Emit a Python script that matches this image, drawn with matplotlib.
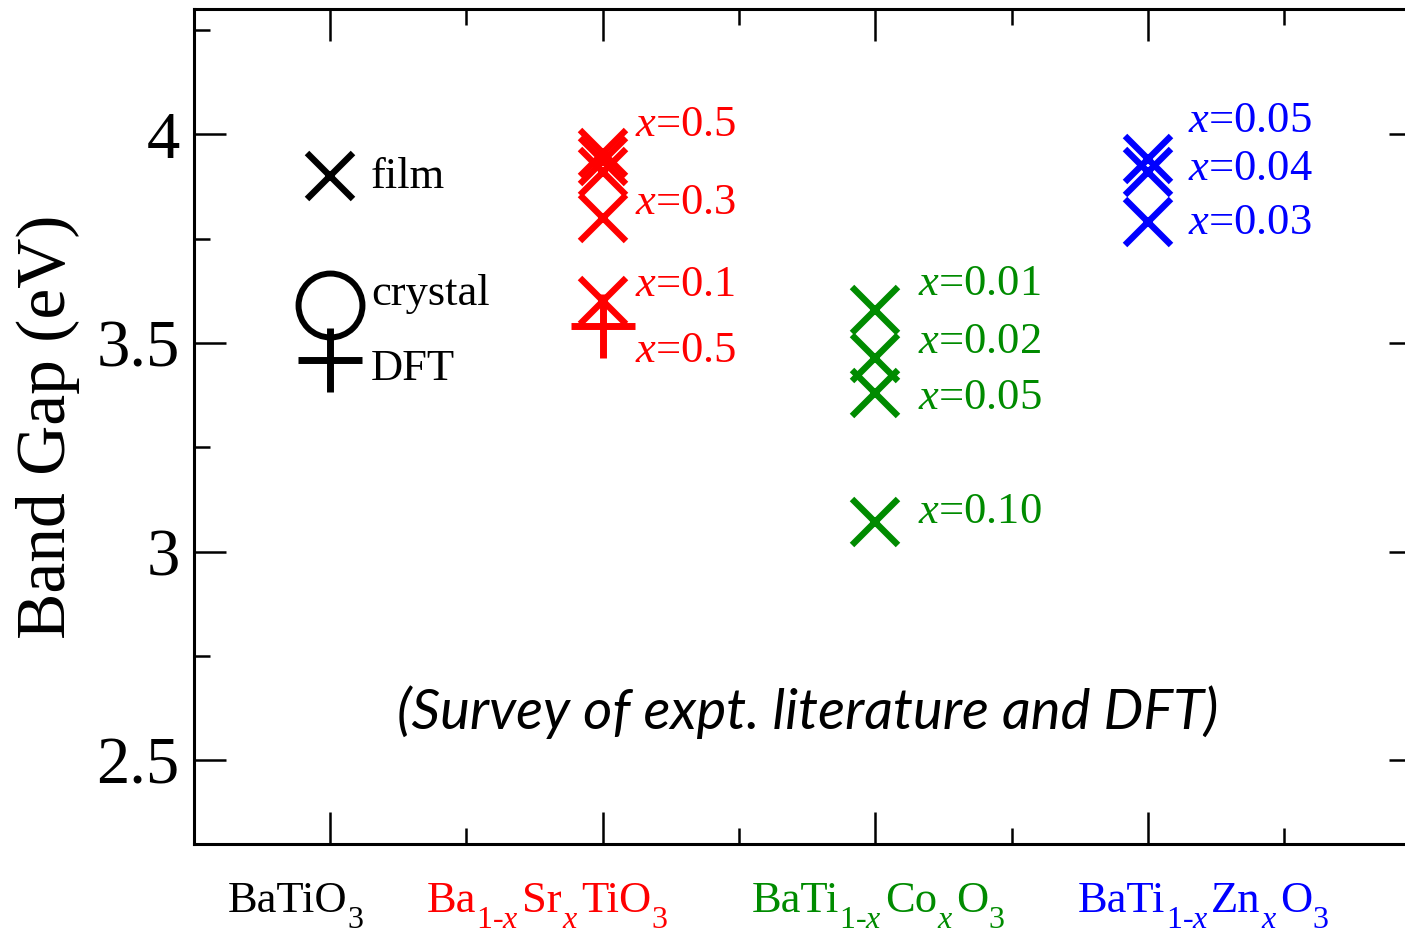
import numpy as np
import matplotlib
matplotlib.use('Agg')
import matplotlib.pyplot as plt
from matplotlib.transforms import IdentityTransform

plt.rcParams['font.family'] = ['Liberation Serif', 'DejaVu Serif']
plt.rcParams['mathtext.fontset'] = 'custom'
plt.rcParams['mathtext.rm'] = 'Liberation Serif'
plt.rcParams['mathtext.it'] = 'Liberation Serif:italic'

# categories along x, names split in (text, is_subscript) pieces
cat_x = [1, 3, 5, 7]
cat_parts = [
    [('BaTiO', False), ('3', True)],
    [('Ba', False), ('1-$x$', True), ('Sr', False), ('$x$', True),
     ('TiO', False), ('3', True)],
    [('BaTi', False), ('1-$x$', True), ('Co', False), ('$x$', True),
     ('O', False), ('3', True)],
    [('BaTi', False), ('1-$x$', True), ('Zn', False), ('$x$', True),
     ('O', False), ('3', True)],
]
cat_colors = ['black', '#ff0000', '#008b00', '#0000ff']

# BaTiO3 (also used as the key)
film_y = [3.90]
crystal_y = [3.59]
dft_y = [3.46]
key_labels = ['film', 'crystal', 'DFT']
key_label_y = [3.871, 3.590, 3.411]

# Ba(1-x)Sr(x)TiO3
bst_film_y = [3.955, 3.935, 3.91, 3.80, 3.60]
bst_dft_y = [3.54]
bst_labels = ['0.5', '0.3', '0.1', '0.5']
bst_label_y = [4.022, 3.835, 3.640, 3.480]

# BaTi(1-x)Co(x)O3
bco_film_y = [3.58, 3.465, 3.38, 3.07]
bco_labels = ['0.01', '0.02', '0.05', '0.10']
bco_label_y = [3.641, 3.502, 3.368, 3.096]

# BaTi(1-x)Zn(x)O3
bzo_film_y = [3.94, 3.91, 3.79]
bzo_labels = ['0.05', '0.04', '0.03']
bzo_label_y = [4.032, 3.918, 3.787]

fig = plt.figure(figsize=(14.05, 9.34), dpi=100)
ax = fig.add_axes([0.1379, 0.0965, 0.8733, 0.8938])
ax.set_xlim(0, 9)
ax.set_ylim(2.3, 4.3)

xm = dict(ls='none', marker='x', ms=33, mew=4.6)

# BaTiO3
ax.plot([cat_x[0]] * len(film_y), film_y, color=cat_colors[0], **xm)
ax.plot([cat_x[0]] * len(crystal_y), crystal_y, ls='none', marker='o', ms=46,
        mew=4.3, mfc='none', color=cat_colors[0])
ax.plot([cat_x[0]] * len(dft_y), dft_y, ls='none', marker='+', ms=46,
        mew=5, color=cat_colors[0])
for lab, y in zip(key_labels, key_label_y):
    ax.text(cat_x[0] + 0.30, y, lab, fontsize=32, va='baseline', ha='left')

# BST
ax.plot([cat_x[1]] * len(bst_film_y), bst_film_y, color=cat_colors[1], **xm)
ax.plot([cat_x[1]] * len(bst_dft_y), bst_dft_y, ls='none', marker='+', ms=46,
        mew=5, color=cat_colors[1])
for lab, y in zip(bst_labels, bst_label_y):
    ax.text(cat_x[1] + 0.24, y, r'$x$=' + lab, fontsize=32, va='center',
            ha='left', color=cat_colors[1])

# BTCo
ax.plot([cat_x[2]] * len(bco_film_y), bco_film_y, color=cat_colors[2], **xm)
for lab, y in zip(bco_labels, bco_label_y):
    ax.text(cat_x[2] + 0.31, y, r'$x$=' + lab, fontsize=32, va='center',
            ha='left', color=cat_colors[2])

# BTZn
ax.plot([cat_x[3]] * len(bzo_film_y), bzo_film_y, color=cat_colors[3], **xm)
for lab, y in zip(bzo_labels, bzo_label_y):
    ax.text(cat_x[3] + 0.29, y, r'$x$=' + lab, fontsize=32, va='center',
            ha='left', color=cat_colors[3])

ax.text(4.5, 2.615, '(Survey of expt. literature and DFT)', fontsize=40.5,
        family='Lato', style='italic', ha='center', va='center')

# category names under the axis, built piece by piece so the subscripts
# sit low like in the original
r = fig.canvas.get_renderer()
starts = [-0.748, -1.289, -0.905, -0.513]
base = 22  # px from bottom of figure
for x, parts, c, o in zip(cat_x, cat_parts, cat_colors, starts):
    px = ax.transData.transform((x + o, 0))[0]
    for s, sub in parts:
        t = ax.text(px, base - 16 if sub else base, s, transform=IdentityTransform(),
                    fontsize=23 if sub else 32, color=c, ha='left', va='baseline')
        px += t.get_window_extent(r).width + (3 if sub else 0)

ax.set_xticks(cat_x)
ax.set_xticks([2, 4, 6, 8], minor=True)
ax.set_xticklabels([])
ax.set_yticks([2.5, 3, 3.5, 4])
ax.set_yticklabels(['2.5', '3', '3.5', '4'])
ax.set_yticks(np.arange(2.5, 4.3, 0.25), minor=True)
ax.tick_params(which='both', direction='in', top=True, right=True, width=1.8,
               labelsize=48, pad=10)
ax.tick_params(which='major', length=23)
ax.tick_params(which='minor', length=11.5)
for sp in ax.spines.values():
    sp.set_linewidth(2.2)

ax.set_ylabel('Band Gap (eV)', fontsize=50, labelpad=12)

fig.savefig('out.png', dpi=100)
